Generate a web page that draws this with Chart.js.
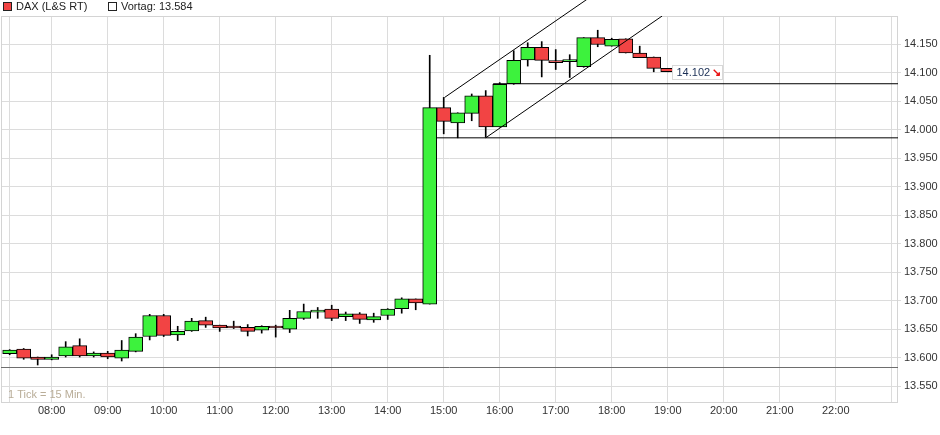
<!DOCTYPE html>
<html>
<head>
<meta charset="utf-8">
<title>DAX (L&amp;S RT)</title>
<script src="https://cdn.jsdelivr.net/npm/chart.js@4.4.1/dist/chart.umd.min.js"></script>
<style>
  html, body { margin: 0; padding: 0; background: #fff; }
  #wrap { position: relative; width: 940px; height: 435px; }
</style>
</head>
<body>
<div id="wrap"><canvas id="daxChart" width="940" height="435"></canvas></div>
<script>
// 15-min candles, L&S DAX
const times = ['07:15', '07:30', '07:45', '08:00', '08:15', '08:30', '08:45', '09:00', '09:15', '09:30', '09:45', '10:00',
    '10:15', '10:30', '10:45', '11:00', '11:15', '11:30', '11:45', '12:00', '12:15', '12:30', '12:45', '13:00',
    '13:15', '13:30', '13:45', '14:00', '14:15', '14:30', '14:45', '15:00', '15:15', '15:30', '15:45', '16:00',
    '16:15', '16:30', '16:45', '17:00', '17:15', '17:30', '17:45', '18:00', '18:15', '18:30', '18:45', '19:00'];
const opens = [13607, 13615, 13601, 13597, 13603, 13621, 13603, 13608, 13599, 13611, 13637, 13674,
    13640, 13647, 13665, 13657, 13653, 13653, 13648, 13655, 13650, 13669, 13680, 13685,
    13672, 13677, 13666, 13674, 13686, 13703, 13694, 14039, 14012, 14029, 14060, 14005,
    14081, 14123, 14145, 14119, 14120, 14111, 14162, 14147, 14160, 14135, 14128, 14108];
const highs = [13614, 13616, 13601, 13605, 13628, 13633, 13610, 13611, 13630, 13642, 13676, 13676,
    13655, 13669, 13671, 13657, 13664, 13658, 13656, 13657, 13683, 13694, 13688, 13692,
    13680, 13679, 13678, 13686, 13705, 13703, 14131, 14057, 14030, 14063, 14069, 14083,
    14139, 14153, 14155, 14141, 14132, 14162, 14175, 14161, 14160, 14147, 14128, 14108];
const lows = [13605, 13597, 13587, 13596, 13601, 13601, 13601, 13598, 13594, 13610, 13631, 13637,
    13630, 13646, 13653, 13646, 13651, 13638, 13643, 13636, 13644, 13667, 13669, 13665,
    13665, 13660, 13662, 13667, 13678, 13684, 13694, 13993, 13986, 14016, 13987, 14005,
    14080, 14112, 14093, 14106, 14092, 14110, 14146, 14147, 14135, 14127, 14102, 14102];
const closes = [13613, 13599, 13597, 13601, 13619, 13603, 13608, 13601, 13613, 13636, 13674, 13639,
    13646, 13664, 13657, 13652, 13652, 13646, 13655, 13652, 13669, 13681, 13683, 13669,
    13677, 13667, 13672, 13685, 13703, 13696, 14039, 14015, 14030, 14060, 14005, 14080,
    14122, 14145, 14122, 14118, 14122, 14162, 14150, 14159, 14135, 14127, 14108, 14102];

const vortag = 13584;
// drawn trend lines: [time, value]
const upperChannel = [['15:01', 14057], ['17:35', 14231]];
const lowerChannel = [['15:45', 13986], ['18:54', 14200]];
const supportLine = [['14:52', 13986], ['23:07', 13986]];
const resistLine = [['15:53', 14081], ['23:07', 14081]];

const xTickLabels = ['08:00', '09:00', '10:00', '11:00', '12:00', '13:00', '14:00', '15:00',
    '16:00', '17:00', '18:00', '19:00', '20:00', '21:00', '22:00'];
const yTicks = [13550, 13600, 13650, 13700, 13750, 13800, 13850, 13900, 13950, 14000, 14050, 14100, 14150];

const GREEN = '#3df23d';
const RED = '#f24444';
const FONT = "'Liberation Sans', Arial, sans-serif";

function toMin(t) {
    const p = t.split(':');
    return parseInt(p[0], 10) * 60 + parseInt(p[1], 10);
}

function fmtNum(v) {
    return (v / 1000).toFixed(3);
}

const candleBodies = times.map((t, i) => ({ x: toMin(t), y: [opens[i], closes[i]] }));
const candleWicks = times.map((t, i) => ({ x: toMin(t), y: [lows[i], highs[i]] }));
const bodyColors = times.map((t, i) => closes[i] >= opens[i] ? GREEN : RED);
const toPts = arr => arr.map(p => ({ x: toMin(p[0]), y: p[1] }));

const xMin = 425.7, xMax = 1386.7;
// gridlines at 07:15 (chart start) and 23:00 without labels
const xGridValues = [toMin('07:15')].concat(xTickLabels.map(toMin), [toMin('23:00')]);

const chartDecor = {
    id: 'chartDecor',
    beforeDatasetsDraw(chart) {
        const { ctx, chartArea: a, scales } = chart;
        ctx.save();
        ctx.strokeStyle = '#d4d4d4';
        ctx.lineWidth = 1;
        ctx.strokeRect(a.left + 0.5, a.top + 0.5, a.right - a.left - 1, a.bottom - a.top);
        // Vortag line
        const y = Math.round(scales.y.getPixelForValue(vortag)) + 0.5;
        ctx.strokeStyle = '#6e6e6e';
        ctx.beginPath();
        ctx.moveTo(a.left, y);
        ctx.lineTo(a.right, y);
        ctx.stroke();
        ctx.font = '11px ' + FONT;
        ctx.fillStyle = '#b9ad98';
        ctx.textBaseline = 'middle';
        ctx.fillText('1 Tick = 15 Min.', 8, 395);
        ctx.restore();
    },
    afterDraw(chart) {
        const { ctx, scales } = chart;
        ctx.save();
        // legend
        ctx.font = '11px ' + FONT;
        ctx.textBaseline = 'middle';
        ctx.fillStyle = RED;
        ctx.fillRect(3, 2, 8, 8);
        ctx.strokeStyle = '#222';
        ctx.strokeRect(3.5, 2.5, 8, 8);
        ctx.fillStyle = '#222';
        ctx.fillText('DAX (L&S RT)', 16, 7);
        ctx.fillStyle = '#fff';
        ctx.fillRect(108, 2, 8, 8);
        ctx.strokeRect(108.5, 2.5, 8, 8);
        ctx.fillStyle = '#222';
        ctx.fillText('Vortag: ' + fmtNum(vortag), 121, 7);

        // last price box
        const last = closes.length - 1;
        const px = scales.x.getPixelForValue(toMin(times[last])) + 4;
        const py = scales.y.getPixelForValue(closes[last]);
        const bx = Math.round(px) + 0.5, by = Math.round(py - 7) + 0.5;
        ctx.fillStyle = '#fff';
        ctx.fillRect(bx, by, 50, 14);
        ctx.strokeStyle = '#d8d8d8';
        ctx.strokeRect(bx, by, 50, 14);
        ctx.fillStyle = '#1b2f55';
        ctx.fillText(fmtNum(closes[last]), bx + 4, by + 7.5);
        ctx.fillStyle = '#e81010';
        ctx.font = 'bold 11px ' + FONT;
        ctx.fillText('\u2198', bx + 39, by + 7.5);
        ctx.restore();
    }
};

function initChart() {
    Chart.defaults.font.family = FONT;
    Chart.defaults.font.size = 11;
    Chart.defaults.color = '#333';
    const ctx = document.getElementById('daxChart').getContext('2d');
    new Chart(ctx, {
        type: 'bar',
        data: {
            datasets: [
                { type: 'line', data: toPts(upperChannel), borderColor: '#000', borderWidth: 1, pointRadius: 0, clip: false, order: 0 },
                { type: 'line', data: toPts(lowerChannel), borderColor: '#000', borderWidth: 1, pointRadius: 0, order: 0 },
                { type: 'line', data: toPts(supportLine), borderColor: '#000', borderWidth: 1, pointRadius: 0, order: 0 },
                { type: 'line', data: toPts(resistLine), borderColor: '#000', borderWidth: 1, pointRadius: 0, order: 0 },
                {
                    data: candleBodies,
                    backgroundColor: bodyColors,
                    borderColor: '#000',
                    borderWidth: 1,
                    borderSkipped: false,
                    barThickness: 14,
                    minBarLength: 2,
                    grouped: false,
                    order: 1
                },
                {
                    data: candleWicks,
                    backgroundColor: '#000',
                    borderWidth: 0,
                    barThickness: 1,
                    grouped: false,
                    order: 2
                }
            ]
        },
        options: {
            responsive: false,
            animation: false,
            events: [],
            layout: { padding: { left: 1, top: 16, right: 0, bottom: 0 } },
            plugins: { legend: { display: false }, tooltip: { enabled: false } },
            scales: {
                x: {
                    type: 'linear',
                    min: xMin,
                    max: xMax,
                    offset: false,
                    grid: { color: '#dcdcdc', drawTicks: false, offset: false },
                    border: { display: false },
                    afterBuildTicks: s => { s.ticks = xGridValues.map(v => ({ value: v })); },
                    afterFit: s => { s.height = 33; },
                    ticks: {
                        padding: 2,
                        maxRotation: 0,
                        autoSkip: false,
                        color: '#333',
                        callback: v => {
                            const h = Math.floor(v / 60), m = v % 60;
                            const lbl = String(h).padStart(2, '0') + ':' + String(m).padStart(2, '0');
                            return xTickLabels.includes(lbl) ? lbl : '';
                        }
                    }
                },
                y: {
                    position: 'right',
                    min: 13522,
                    max: 14200,
                    grid: { color: '#dcdcdc', tickLength: 3 },
                    border: { display: false },
                    afterBuildTicks: s => { s.ticks = yTicks.map(v => ({ value: v })); },
                    afterFit: s => { s.width = 42; },
                    ticks: { padding: 3, color: '#333', callback: v => fmtNum(v) }
                }
            }
        },
        plugins: [chartDecor]
    });
}

document.addEventListener('DOMContentLoaded', initChart);
</script>
</body>
</html>
